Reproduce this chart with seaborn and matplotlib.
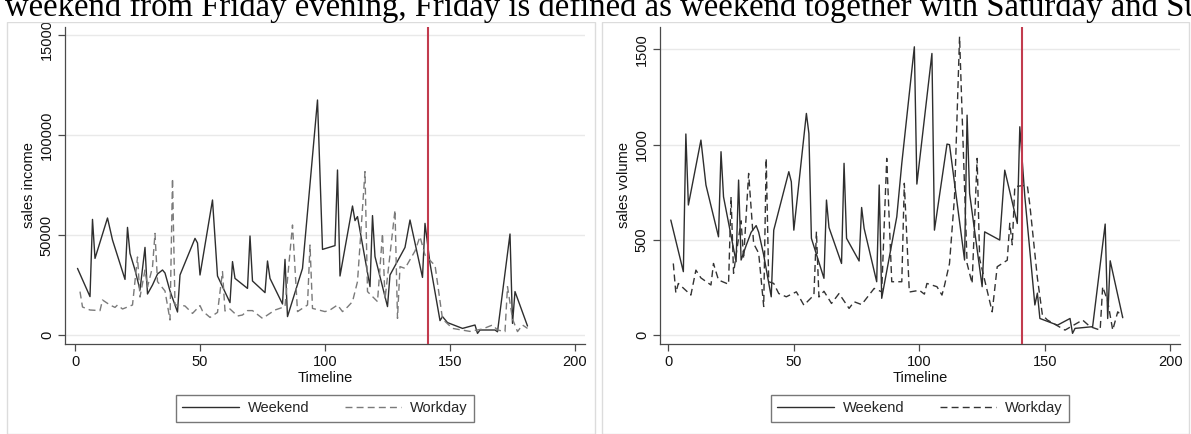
import numpy as np
import pandas as pd
import matplotlib.pyplot as plt
import seaborn as sns
from matplotlib.patches import Rectangle

# ---- data (day index on the timeline) ----
income_weekend_t = [1, 6, 7, 8, 13, 15, 20, 21, 22, 24, 26, 28, 29, 31, 33, 35, 36, 38, 41, 42, 48, 49, 50,
                    55, 57, 62, 63, 64, 69, 70, 71, 76, 77, 78, 83, 84, 85, 91, 97, 99, 104, 105, 106,
                    111, 112, 113, 118, 119, 120, 125, 126, 132, 134, 139, 140, 142, 146, 147, 149,
                    155, 160, 161, 162, 168, 169, 174, 175, 176, 181]
income_weekend = [33300, 19200, 57800, 38300, 58500, 47500, 27800, 53800, 40800, 32500, 22500, 43800, 20500,
                  25000, 30500, 32500, 31000, 22000, 11500, 30000, 48300, 46000, 30000,
                  67500, 29500, 16200, 36700, 28300, 23300, 49500, 27000, 21200, 37000, 28300, 15500, 37800,
                  9200, 33300, 117500, 42800, 44700, 82500, 29500,
                  64500, 57200, 59200, 24200, 59700, 39200, 14200, 30000, 43800, 57500, 28800, 55800, 35800,
                  7200, 9200, 6200, 3300, 5000, 800, 2500, 2500, 1600, 50500, 5800, 21700, 4500]

income_workday_t = [2, 3, 6, 10, 11, 14, 16, 17, 19, 23, 25, 26, 28, 29, 31, 32, 33, 36, 38, 39, 40, 42, 44,
                    47, 50, 51, 54, 57, 59, 60, 62, 65, 67, 69, 71, 75, 77, 80, 84, 87, 89, 93, 94, 95,
                    100, 102, 105, 107, 109, 111, 113, 116, 117, 121, 123, 124, 128, 129, 130, 132, 136,
                    138, 140, 143, 144, 147, 151, 158, 163, 167, 169, 172, 173, 175, 177, 179, 181]
income_workday = [21700, 14000, 12500, 12200, 17500, 15000, 13800, 15000, 13000, 15000, 39000, 19000, 32500,
                  24000, 34000, 50800, 26700, 22000, 7500, 78300, 15000, 15000, 14500,
                  10800, 14700, 12000, 8800, 11300, 31700, 12000, 13000, 9500, 10000, 12200, 12200, 8300,
                  10000, 12500, 14200, 55000, 11700, 15000, 45000, 13300,
                  11700, 12500, 15000, 11700, 14000, 16700, 26700, 81700, 21700, 16700, 50800, 18000,
                  62500, 8300, 34200, 33300, 42000, 49200, 40000, 36000, 35000, 8000, 3300, 1800, 3000,
                  5000, 2500, 1700, 24200, 8000, 1700, 5000, 3300]

volume_weekend_t = [1, 6, 7, 8, 13, 15, 20, 21, 22, 27, 28, 29, 31, 33, 35, 36, 38, 41, 42, 48, 49, 50,
                    55, 56, 57, 62, 63, 64, 69, 70, 71, 76, 77, 78, 83, 84, 85, 91, 93, 98, 99, 105, 106,
                    111, 112, 118, 119, 120, 125, 126, 132, 134, 139, 140, 142, 146, 147, 148,
                    155, 160, 161, 162, 169, 174, 175, 176, 181]
volume_weekend = [604, 333, 1056, 683, 1024, 788, 516, 963, 726, 385, 814, 394, 470, 540, 575, 540, 420,
                  201, 551, 858, 805, 551, 1164, 1059, 508, 298, 709, 565, 376, 902, 508, 389, 670, 560,
                  280, 788, 193, 621, 902, 1514, 793, 1479, 551, 1003, 1000, 394, 1155, 744, 254, 542,
                  499, 866, 586, 1094, 727, 158, 220, 87, 52, 87, 9, 35, 44, 583, 87, 390, 91]

volume_workday_t = [2, 3, 4, 9, 11, 13, 17, 18, 20, 24, 25, 26, 27, 29, 30, 32, 34, 36, 38, 39, 40, 42, 44,
                    47, 51, 54, 58, 59, 60, 62, 65, 68, 72, 74, 77, 82, 85, 87, 89, 93, 94, 96,
                    100, 102, 103, 107, 109, 110, 112, 114, 116, 119, 121, 123, 124, 129, 131, 135, 136,
                    137, 138, 141, 143, 144, 147, 149, 151, 158, 165, 168, 172, 173, 175, 177, 179, 181]
volume_workday = [376, 222, 271, 210, 341, 300, 263, 376, 289, 267, 726, 324, 420, 600, 400, 849, 480, 430,
                  150, 928, 280, 271, 218, 201, 227, 157, 210, 543, 200, 230, 166, 218, 140, 175, 160,
                  245, 227, 928, 280, 280, 797, 226, 235, 215, 271, 254, 210, 260, 376, 726, 1567, 376,
                  271, 928, 400, 122, 359, 393, 587, 474, 779, 785, 785, 683, 300, 105, 79, 26, 79, 44,
                  26, 254, 178, 26, 122, 96]

break_day = 141
caption = "weekend from Friday evening, Friday is defined as weekend together with Saturday and Sun"

# ---- style ----
sns.set_theme(style="white")
plt.rcParams['font.family'] = ['Liberation Sans', 'DejaVu Sans']

W, H = 1191, 434
fig = plt.figure(figsize=(W / 100, H / 100), dpi=100)
fig.patch.set_facecolor("white")


def px_axes(x0, y0, x1, y1):
    # axes from pixel box (top-left origin)
    return fig.add_axes([x0 / W, (H - y1) / H, (x1 - x0) / W, (y1 - y0) / H])


def draw_panel(ax, wk_t, wk_v, wd_t, wd_v, wd_color, ylabel, yticks, ylim, xlim):
    sns.lineplot(x=wk_t, y=wk_v, ax=ax, color="#2e2e2e", lw=1.0, label="Weekend",
                 estimator=None, sort=False)
    sns.lineplot(x=wd_t, y=wd_v, ax=ax, color=wd_color, lw=1.0, linestyle=(0, (5, 3)),
                 label="Workday", estimator=None, sort=False)
    ax.axvline(break_day, color="#c23b4e", lw=1.5, zorder=5)

    ax.set_xlim(*xlim)
    ax.set_ylim(*ylim)
    ax.set_xticks([0, 50, 100, 150, 200])
    ax.set_yticks(yticks)
    ax.yaxis.grid(True, color="#e9e9e9", lw=1.0)
    ax.xaxis.grid(False)
    ax.set_axisbelow(True)

    for s in ["top", "right"]:
        ax.spines[s].set_visible(False)
    for s in ["left", "bottom"]:
        ax.spines[s].set_color("#4a4a4a")
        ax.spines[s].set_linewidth(0.9)
    ax.tick_params(axis="both", direction="out", length=5, width=0.9, color="#4a4a4a",
                   labelsize=10.5, labelcolor="#111111", left=True, bottom=True, pad=3)
    ax.tick_params(axis="y", labelrotation=90)
    for lab in ax.get_yticklabels():
        lab.set_va("center")

    ax.set_xlabel("Timeline", fontsize=10.5, color="#111111", labelpad=1)
    ax.set_ylabel(ylabel, fontsize=10.5, color="#111111")
    ax.yaxis.set_label_coords(-0.055, 0.5)

    leg = ax.legend(loc="upper center", bbox_to_anchor=(0.5, -0.16), ncol=2, frameon=True,
                    fancybox=False, edgecolor="#555555", handlelength=3.9, fontsize=10.5,
                    columnspacing=2.4, handletextpad=0.6, borderpad=0.45, borderaxespad=0)
    leg.get_frame().set_linewidth(1.0)


ax1 = px_axes(65, 27, 585, 344)
draw_panel(ax1, income_weekend_t, income_weekend, income_workday_t, income_workday,
           "#7a7a7a", "sales income", [0, 50000, 100000, 150000], (-4500, 154000), (-4, 204))

ax2 = px_axes(660, 27, 1180, 344)
draw_panel(ax2, volume_weekend_t, volume_weekend, volume_workday_t, volume_workday,
           "#333333", "sales volume", [0, 500, 1000, 1500], (-47, 1618), (-3.3, 203.8))

# panel frames
for x0, x1 in [(7, 595), (602, 1189)]:
    fig.patches.append(Rectangle((x0 / W, 0), (x1 - x0) / W, (H - 22) / H, transform=fig.transFigure,
                                 fill=False, edgecolor="#dcdcdc", lw=1.0, zorder=0))

# white strip on top with the cut-off caption
fig.patches.append(Rectangle((0, (H - 22) / H), 1, 22 / H, transform=fig.transFigure,
                             facecolor="white", edgecolor="none", zorder=3))
fig.text(5 / W, (H - 16) / H, caption, family=["Liberation Serif"], fontsize=23.6,
         va="baseline", ha="left", color="black", zorder=4)

fig.savefig("out.png", dpi=100)
